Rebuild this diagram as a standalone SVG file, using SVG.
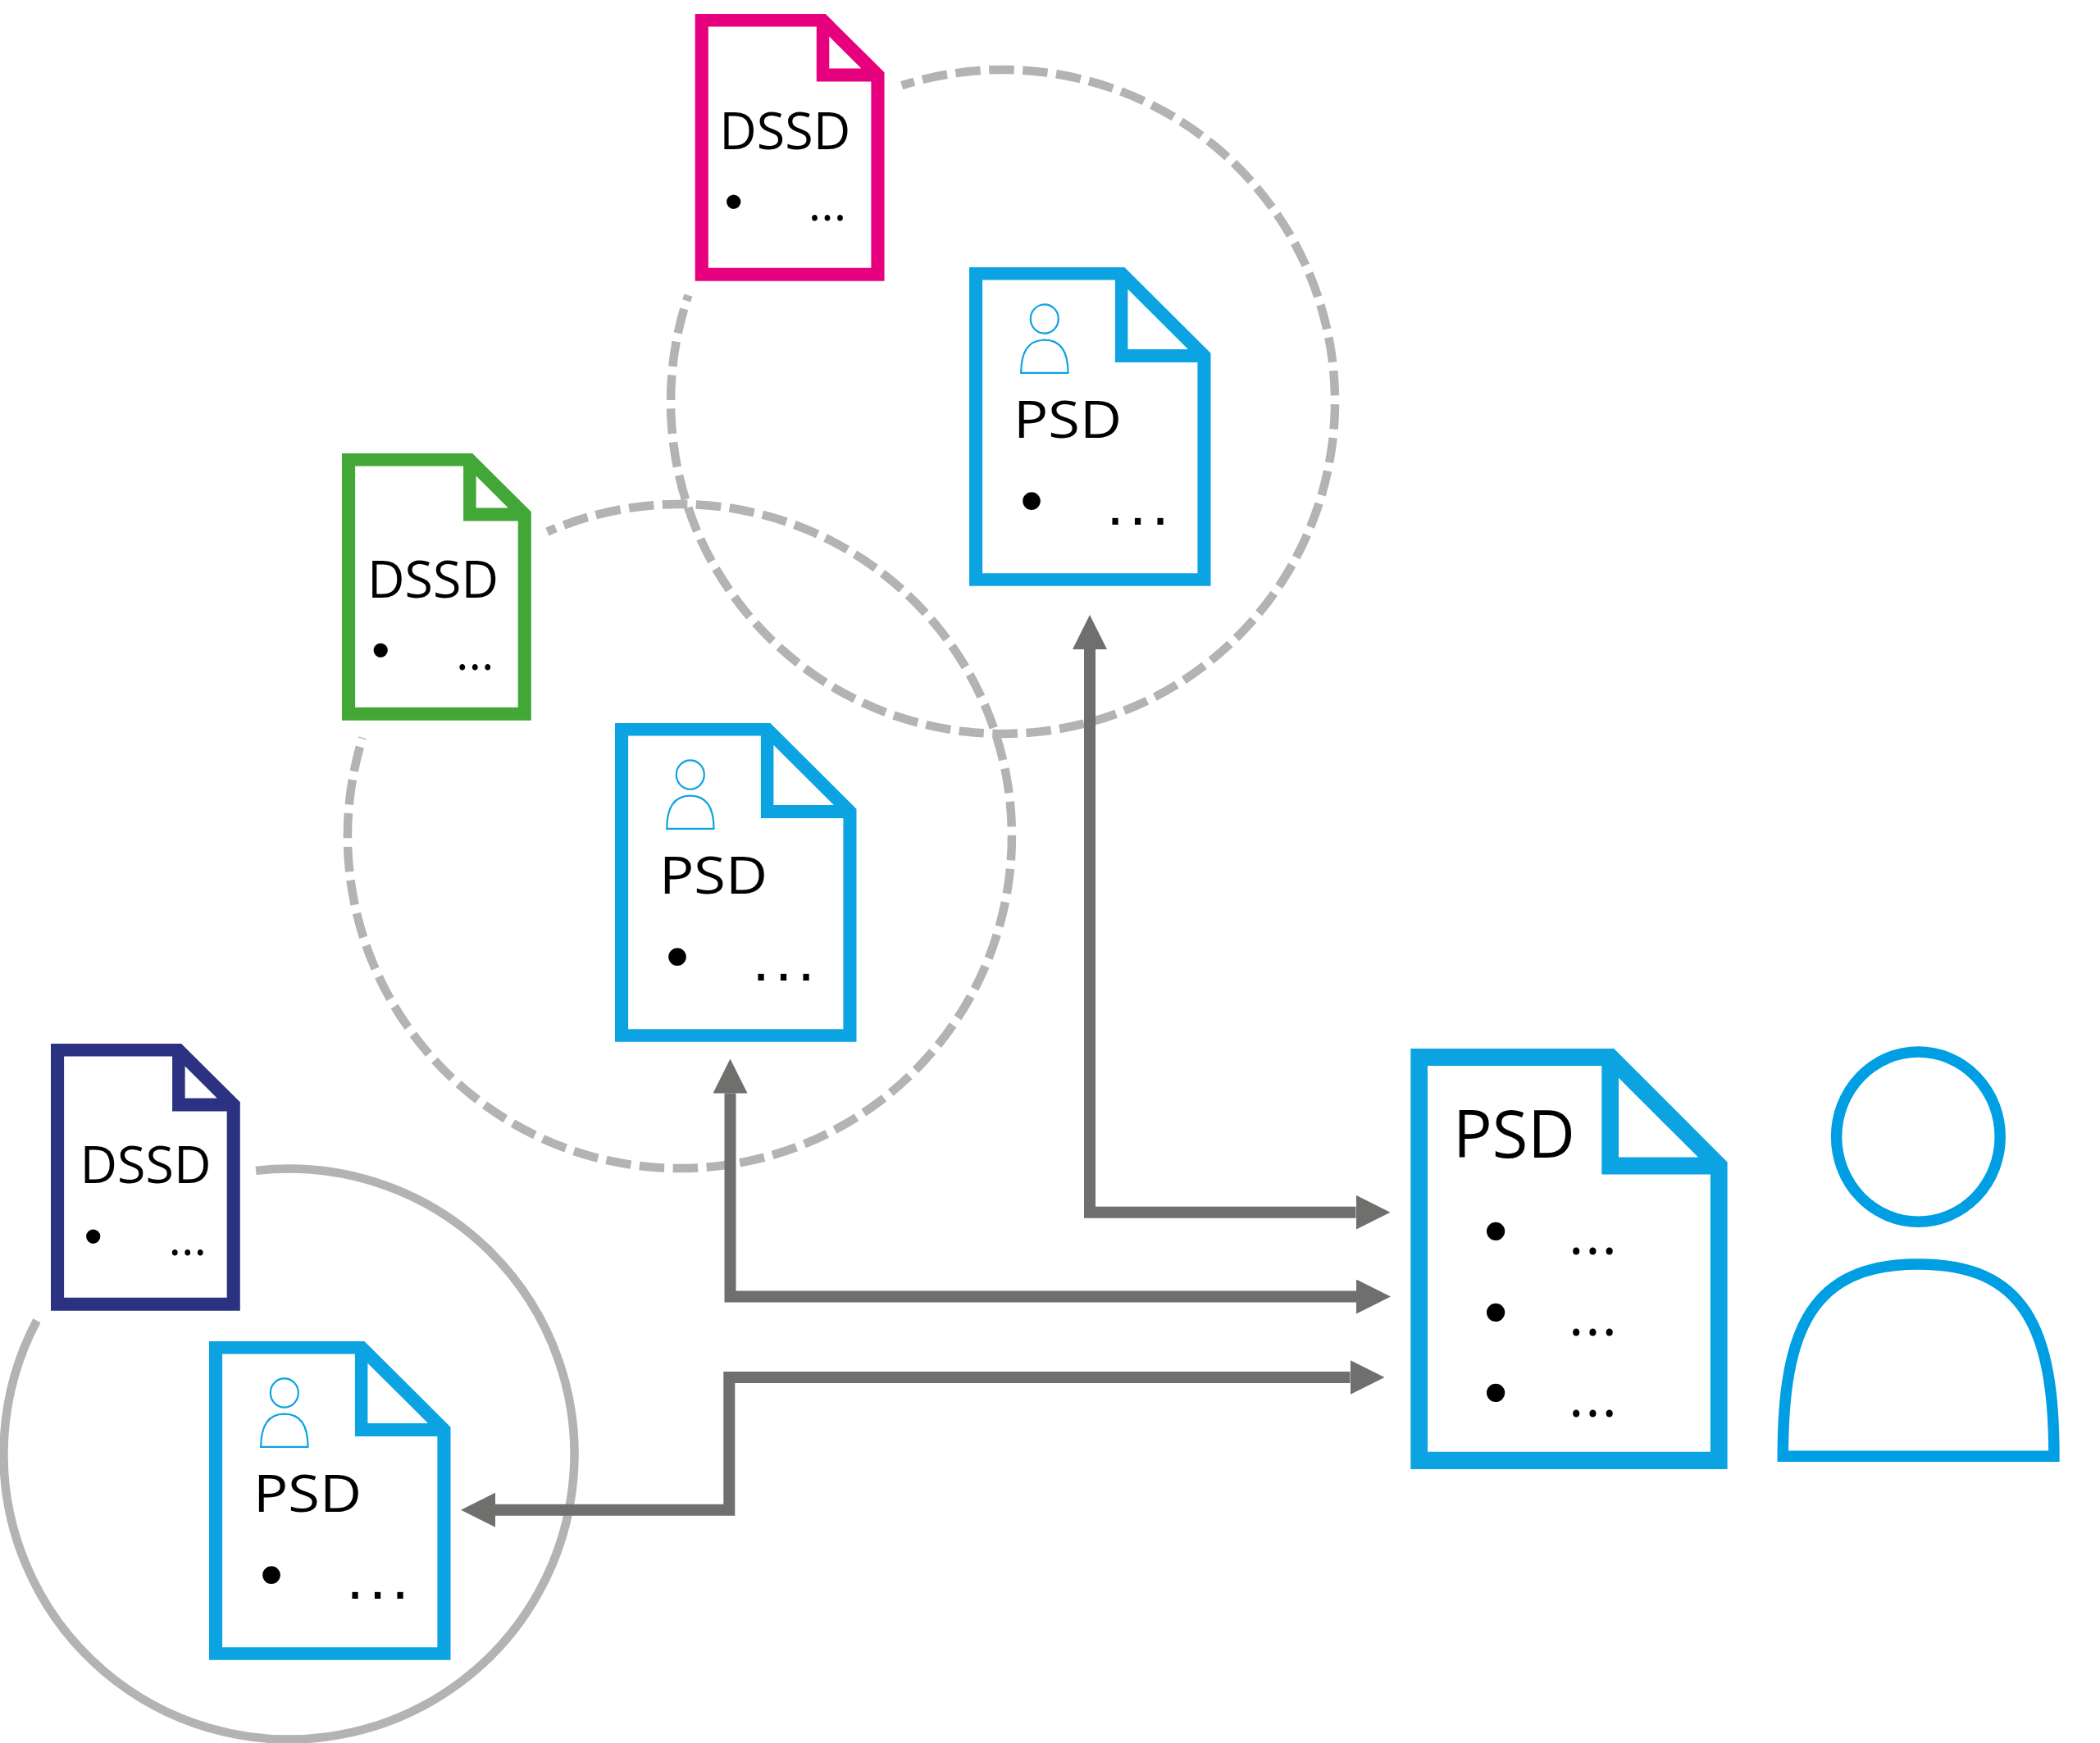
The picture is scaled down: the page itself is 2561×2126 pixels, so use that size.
<svg xmlns="http://www.w3.org/2000/svg" width="2561" height="2126" viewBox="0 0 2561 2126">
<style>
.blue{fill:#0ca3e3}.pink{fill:#e6007e}.green{fill:#43a737}.navy{fill:#2b3282}
text{fill:#000}
.lbl{font-family:"Open Sans","Noto Sans",sans-serif;font-size:62px}
.big{font-size:81px}
.bul{font-family:"Liberation Sans",Arial,sans-serif;font-size:64px;text-anchor:middle}
.bulp{font-size:80px}
.bulb{font-size:82px}
.dots{font-family:"Open Sans","Noto Sans",sans-serif;font-size:59px}
.dotp{font-family:"Liberation Sans",Arial,sans-serif;font-size:76px;letter-spacing:6.5px}
.dotb{font-size:70px;letter-spacing:1.8px}
.ring{fill:none;stroke:#b3b3b3;stroke-width:10.5}
.dash{stroke-dasharray:30.5 10.5}
.conn{fill:none;stroke:#6f6f6e;stroke-width:14;marker-start:url(#head);marker-end:url(#head)}
.mini{fill:none;stroke:#0ca3e3;stroke-width:2.2}
</style>
<defs>
<marker id="head" markerUnits="userSpaceOnUse" viewBox="0 0 42 42" markerWidth="42" markerHeight="42" refX="0" refY="21" orient="auto-start-reverse"><path d="M0,0 L42,21 L0,42 Z" fill="#6f6f6e"/></marker>
<path id="doc-psd" fill-rule="evenodd" d="M0,0H189.4L294.5,104.7V388.7H0Z M16.1,15.5V373.2H278.4V115.9H177.9V15.5Z M193.4,26.7V99.9H266.9Z"/>
<path id="doc-dssd" fill-rule="evenodd" d="M0,0H159.1L230.8,71.2V325.7H0Z M16.1,15.5V309.7H214.7V82.4H148.1V15.5Z M163.6,27.6V66.4H202.7Z"/>
<g id="mini-person" class="mini"><ellipse cx="91.8" cy="63" rx="17" ry="17.6"/><path d="M63.2,128.9C63.2,103 72,88.7 91.8,88.7C111.6,88.7 120.5,103 120.5,128.9Z"/></g>
</defs>

<g id="rings">
<path id="ring-top" class="ring dash" stroke-dashoffset="14.5" d="M1099.7,104.2A405,405 0 1 1 839.4,360.1"/>
<path id="ring-mid" class="ring dash" stroke-dashoffset="19" d="M667.4,648.6A405,405 0 1 1 442.2,899.7"/>
<path id="ring-low" class="ring" d="M312.1,1427.9A348,348 0 1 1 44.9,1610.8"/>
</g>

<g id="connectors">
<path class="conn" d="M1329,792V1478.7H1653.5"/>
<path class="conn" d="M890.5,1333.5V1581.5H1654"/>
<path class="conn" d="M604,1841.7H889.3V1680H1646.5"/>
</g>

<g id="dssd-pink" transform="translate(847.7,17)">
<use href="#doc-dssd" class="pink"/>
<text class="lbl" x="29.5" y="164.8" textLength="160" lengthAdjust="spacingAndGlyphs">DSSD</text>
<text class="bul" x="47" y="250.8">•</text>
<text class="dots" x="138" y="251.5">...</text>
</g>
<g id="dssd-green" transform="translate(417,553)">
<use href="#doc-dssd" class="green"/>
<text class="lbl" x="31" y="176" textLength="160" lengthAdjust="spacingAndGlyphs">DSSD</text>
<text class="bul" x="47.3" y="262.3">•</text>
<text class="dots" x="139" y="264">...</text>
</g>
<g id="dssd-navy" transform="translate(62,1273)">
<use href="#doc-dssd" class="navy"/>
<text class="lbl" x="35.5" y="169.7" textLength="160" lengthAdjust="spacingAndGlyphs">DSSD</text>
<text class="bul" x="51.8" y="256.8">•</text>
<text class="dots" x="143.5" y="257.5">...</text>
</g>

<g id="psd-top" transform="translate(1182,326)">
<use href="#doc-psd" class="blue"/>
<use href="#mini-person"/>
<text class="lbl" x="54" y="208" textLength="132" lengthAdjust="spacingAndGlyphs">PSD</text>
<text class="bul bulp" x="76" y="311.5">•</text>
<text class="dotp" x="167.4" y="314">...</text>
</g>
<g id="psd-mid" transform="translate(750,882)">
<use href="#doc-psd" class="blue"/>
<use href="#mini-person"/>
<text class="lbl" x="54" y="208" textLength="132" lengthAdjust="spacingAndGlyphs">PSD</text>
<text class="bul bulp" x="76" y="311.5">•</text>
<text class="dotp" x="167.4" y="314">...</text>
</g>
<g id="psd-low" transform="translate(255,1636)">
<use href="#doc-psd" class="blue"/>
<use href="#mini-person"/>
<text class="lbl" x="54" y="208" textLength="132" lengthAdjust="spacingAndGlyphs">PSD</text>
<text class="bul bulp" x="76" y="311.5">•</text>
<text class="dotp" x="167.4" y="314">...</text>
</g>

<g id="psd-main">
<path class="blue" fill-rule="evenodd" d="M1720.3,1278.9H1968.2L2106.6,1417.6V1791.9H1720.3Z M1741,1300V1770.8H2085.9V1432.4H1953.3V1300Z M1974,1314.7V1411.6H2071Z"/>
<text class="lbl big" x="1772" y="1411.6" textLength="149" lengthAdjust="spacingAndGlyphs">PSD</text>
<text class="bul bulb" x="1824.2" y="1528.5">•</text>
<text class="bul bulb" x="1824.2" y="1627.7">•</text>
<text class="bul bulb" x="1824.2" y="1726.4">•</text>
<text class="dots dotb" x="1913" y="1530">...</text>
<text class="dots dotb" x="1913" y="1629">...</text>
<text class="dots dotb" x="1913" y="1728">...</text>
</g>

<g id="user" fill="none" stroke="#009fe3" stroke-width="13.5">
<ellipse cx="2339.4" cy="1386.6" rx="99.8" ry="103.6"/>
<path d="M2174.3,1776.3C2174.3,1620 2210,1541.9 2339.6,1541.9C2469,1541.9 2505,1620 2504.9,1776.3Z"/>
</g>
</svg>
